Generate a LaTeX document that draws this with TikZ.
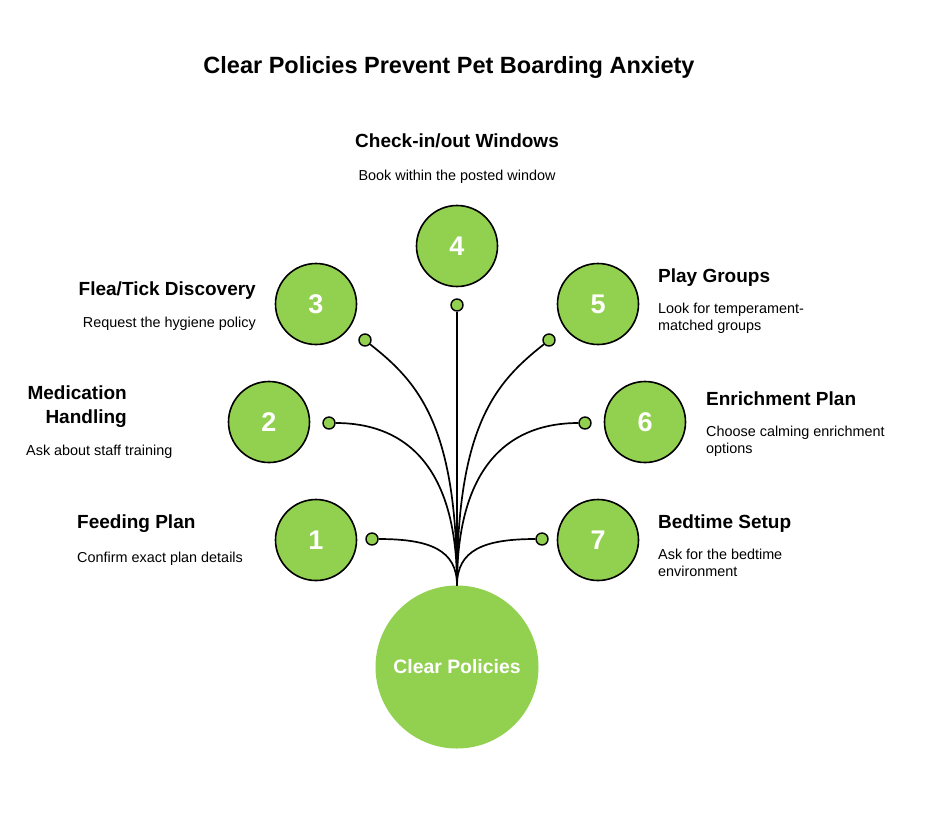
\documentclass[tikz,border=0pt]{standalone}
\usepackage{fontspec}
\setmainfont{Liberation Sans}
\definecolor{leaf}{HTML}{92D050}
\begin{document}
\begin{tikzpicture}[x=1pt,y=-1pt,
  num/.style={circle,draw=black,line width=1.6pt,fill=leaf,minimum size=81pt,inner sep=0pt,text=white,font=\fontsize{27}{27}\selectfont\bfseries},
  hubcircle/.style={circle,fill=leaf,minimum size=163pt,inner sep=0pt,text=white,font=\fontsize{19.4}{22}\selectfont\bfseries},
  dot/.style={circle,draw=black,line width=1.4pt,fill=leaf,minimum size=12pt,inner sep=0pt},
  link/.style={draw=black,line width=1.7pt},
  head/.style={inner sep=0pt,font=\fontsize{19}{24}\selectfont\bfseries},
  desc/.style={inner sep=0pt,font=\fontsize{14.4}{17}\selectfont},
  title/.style={inner sep=0pt,font=\fontsize{23.5}{28}\selectfont\bfseries},
]
\path[fill=white] (0,0) rectangle (925,820);
\useasboundingbox (0,0) rectangle (925,820);

\node[title,anchor=base] (ttl) at (449,73) {Clear Policies Prevent Pet Boarding Anxiety};

% main circle
\node[hubcircle] (main) at (457,667) {Clear Policies};

% numbered circles
\node[num] (c1) at (316,540) {1};
\node[num] (c2) at (269,422) {2};
\node[num] (c3) at (316,304) {3};
\node[num] (c4) at (457,246) {4};
\node[num] (c5) at (598,304) {5};
\node[num] (c6) at (645,422) {6};
\node[num] (c7) at (598,540) {7};

% dots
\node[dot] (d1) at (372,539) {};
\node[dot] (d2) at (329,423) {};
\node[dot] (d3) at (365,340) {};
\node[dot] (d4) at (457,305) {};
\node[dot] (d5) at (549,340) {};
\node[dot] (d6) at (585,423) {};
\node[dot] (d7) at (542,539) {};

% connectors
\draw[link] (d1.east) .. controls (430,539) and (457,550) .. (main.north);
\draw[link] (d2.east) .. controls (400,423) and (457,460) .. (main.north);
\draw[link] (d3.-40) .. controls (418,382) and (457,425) .. (main.north);
\draw[link] (d4.south) -- (main.north);
\draw[link] (d5.220) .. controls (496,382) and (457,425) .. (main.north);
\draw[link] (d6.west) .. controls (514,423) and (457,460) .. (main.north);
\draw[link] (d7.west) .. controls (484,539) and (457,550) .. (main.north);

% labels
\node[head,anchor=base] (h4) at (457,147) {Check-in/out Windows};
\node[desc,anchor=base] (t4) at (457,180) {Book within the posted window};

\node[head,anchor=base east] (h3) at (256,295) {Flea/Tick Discovery};
\node[desc,anchor=base east] (t3) at (256,327) {Request the hygiene policy};

\node[head,anchor=base east] (h2) at (127,399) {\parbox[t]{150pt}{\raggedleft Medication\\Handling}};
\node[desc,anchor=base west] (t2) at (26,455) {Ask about staff training};

\node[head,anchor=base west] (h1) at (77,528) {Feeding Plan};
\node[desc,anchor=base west] (t1) at (77,562) {Confirm exact plan details};

\node[head,anchor=base west] (h5) at (658,282) {Play Groups};
\node[desc,anchor=base west] (t5) at (658,313) {\parbox[t]{200pt}{\raggedright Look for temperament-\\matched groups}};

\node[head,anchor=base west] (h6) at (706,405) {Enrichment Plan};
\node[desc,anchor=base west] (t6) at (706,436) {\parbox[t]{200pt}{\raggedright Choose calming enrichment\\options}};

\node[head,anchor=base west] (h7) at (658,528) {Bedtime Setup};
\node[desc,anchor=base west] (t7) at (658,559) {\parbox[t]{200pt}{\raggedright Ask for the bedtime\\environment}};
\end{tikzpicture}
\end{document}
